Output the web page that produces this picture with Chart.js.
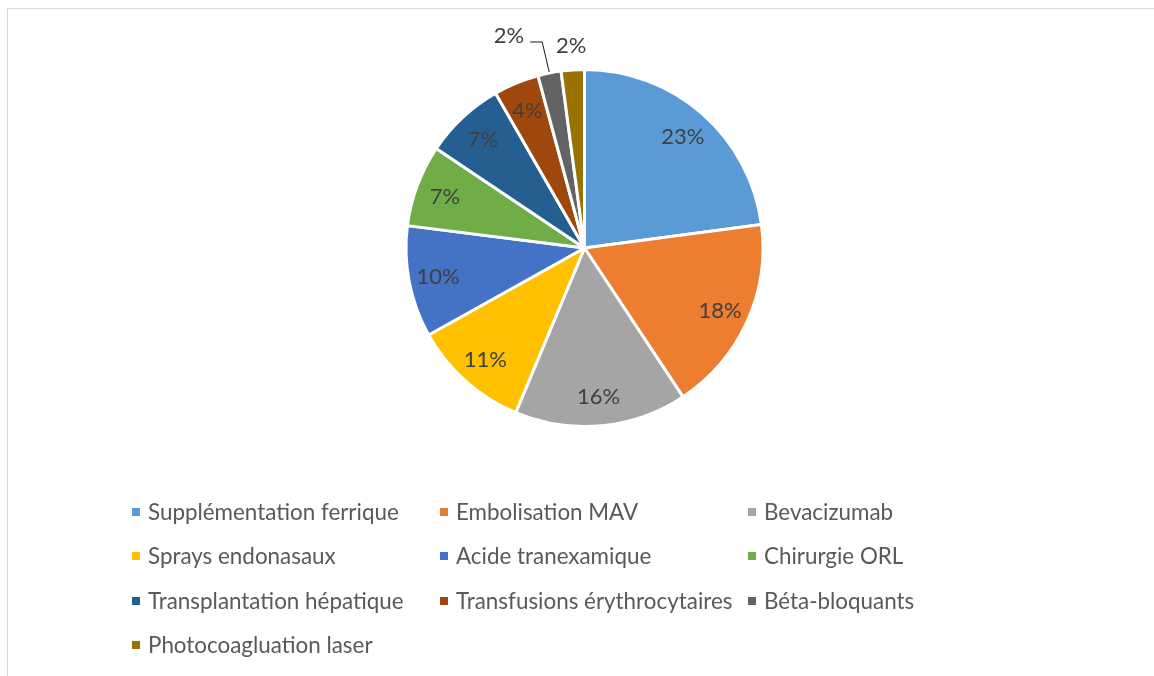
<!DOCTYPE html>
<html>
<head>
<meta charset="utf-8">
<script src="https://cdn.jsdelivr.net/npm/chart.js@4/dist/chart.umd.min.js"></script>
<style>
  html, body { margin: 0; padding: 0; background: #fff; }
  body { width: 1154px; height: 676px; position: relative; overflow: hidden; }
  #frame { position: absolute; left: 7px; top: 8px; width: 1160px; height: 700px;
           border-left: 1px solid #d9d9d9; border-top: 1px solid #d9d9d9; box-sizing: border-box; }
  #wrap { position: absolute; left: 0; top: 0; width: 1154px; height: 676px; }
  #legend { position: absolute; left: 0; top: 0; width: 1154px; height: 676px; pointer-events: none;
            font-family: Lato, "Noto Sans", sans-serif; font-size: 22.4px; color: #595959; }
  .item { position: absolute; height: 24px; line-height: 24px; white-space: nowrap; }
  .box { position: absolute; left: 0; top: 8px; width: 8px; height: 8px; }
  .txt { position: absolute; left: 16px; top: 0; }
</style>
</head>
<body>
<div id="frame"></div>
<div id="wrap"><canvas id="c" width="1154" height="676"></canvas></div>
<div id="legend"></div>
<script>
// ---- data ----
const categories = [
  "Supplémentation ferrique",
  "Embolisation MAV",
  "Bevacizumab",
  "Sprays endonasaux",
  "Acide tranexamique",
  "Chirurgie ORL",
  "Transplantation hépatique",
  "Transfusions érythrocytaires",
  "Béta-bloquants",
  "Photocoagluation laser"
];
const shares = [22.9, 17.8, 15.6, 10.6, 10.1, 7.4, 7.3, 4.1, 2.1, 2.1];
const sliceColors = ["#5B9BD5", "#ED7D31", "#A5A5A5", "#FFC000", "#4472C4",
                     "#70AD47", "#255E91", "#9E480E", "#636363", "#997300"];

const FONT = 'Lato, "Noto Sans", sans-serif';

const labelPlugin = {
  id: 'sliceLabels',
  afterDatasetsDraw(chart) {
    const ctx = chart.ctx;
    const meta = chart.getDatasetMeta(0);
    const data = chart.data.datasets[0].data;
    const total = data.reduce((a, b) => a + b, 0);
    ctx.save();
    ctx.font = '22px ' + FONT;
    ctx.fillStyle = '#404040';
    meta.data.forEach((arc, i) => {
      const p = arc.getProps(['x', 'y', 'startAngle', 'endAngle', 'outerRadius'], true);
      const mid = (p.startAngle + p.endAngle) / 2;
      const txt = Math.round(data[i] / total * 100) + '%';
      const cos = Math.cos(mid), sin = Math.sin(mid);
      if (i === data.length - 2) {
        // outside label with leader line
        const x0 = p.x + cos * (p.outerRadius + 1), y0 = p.y + sin * (p.outerRadius + 1);
        const x1 = x0 - 7, y1 = y0 - 30;
        const x2 = x1 - 12;
        ctx.strokeStyle = '#1a1a1a';
        ctx.lineWidth = 1;
        ctx.beginPath();
        ctx.moveTo(x0, y0); ctx.lineTo(x1, y1); ctx.lineTo(x2, y1);
        ctx.stroke();
        ctx.textAlign = 'right';
        ctx.textBaseline = 'alphabetic';
        ctx.fillText(txt, x2 - 6, y1 + 1);
      } else if (i === data.length - 1) {
        const r = p.outerRadius + 24;
        ctx.textAlign = 'center';
        ctx.textBaseline = 'middle';
        ctx.fillText(txt, p.x + cos * r, p.y + sin * r);
      } else {
        const r = p.outerRadius * 0.835;
        ctx.textAlign = 'center';
        ctx.textBaseline = 'middle';
        ctx.fillText(txt, p.x + cos * r, p.y + sin * r + 1);
      }
    });
    ctx.restore();
  }
};

const chart = new Chart(document.getElementById('c'), {
  type: 'pie',
  data: {
    labels: categories,
    datasets: [{
      data: shares,
      backgroundColor: sliceColors,
      borderColor: '#ffffff',
      borderWidth: 3
    }]
  },
  options: {
    responsive: false,
    animation: false,
    layout: { padding: { left: 404.5, right: 389.5, top: 68, bottom: 248 } },
    plugins: {
      legend: { display: false },
      tooltip: { enabled: false }
    }
  },
  plugins: [labelPlugin]
});

// HTML legend in a 3-column grid, built from the chart's own legend items
const items = Chart.overrides.pie.plugins.legend.labels.generateLabels(chart);
const legendEl = document.getElementById('legend');
const colX = [132, 440, 748];
const rowY = [511.5, 556, 600.5, 645];
items.forEach((it, i) => {
  const col = i % 3, row = Math.floor(i / 3);
  const d = document.createElement('div');
  d.className = 'item';
  d.style.left = colX[col] + 'px';
  d.style.top = (rowY[row] - 12) + 'px';
  const b = document.createElement('div');
  b.className = 'box';
  b.style.background = it.fillStyle;
  const t = document.createElement('span');
  t.className = 'txt';
  t.textContent = it.text;
  d.appendChild(b); d.appendChild(t);
  legendEl.appendChild(d);
});
</script>
</body>
</html>
